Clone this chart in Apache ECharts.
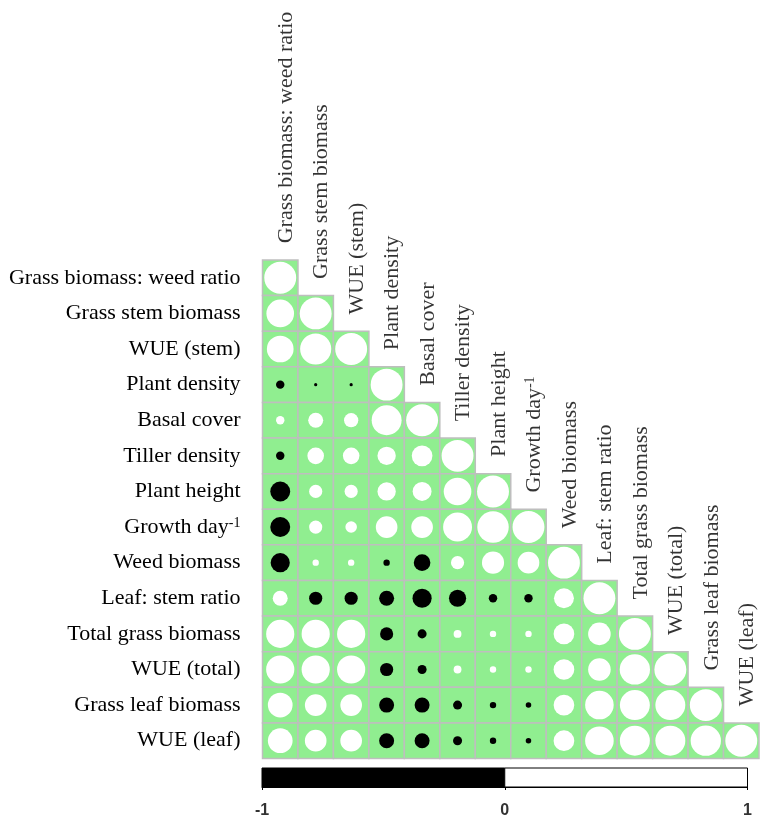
<!DOCTYPE html>
<html>
<head>
<meta charset="utf-8">
<script src="https://cdn.jsdelivr.net/npm/echarts@6/dist/echarts.min.js"></script>
<style>
html, body { margin: 0; padding: 0; background: #fff; }
#picture { width: 765px; height: 820px; }
</style>
</head>
<body>
<div id="picture"></div>
<script>
var variables = ['Grass biomass: weed ratio', 'Grass stem biomass', 'WUE (stem)', 'Plant density',
    'Basal cover', 'Tiller density', 'Plant height', 'Growth day-1', 'Weed biomass',
    'Leaf: stem ratio', 'Total grass biomass', 'WUE (total)', 'Grass leaf biomass', 'WUE (leaf)'];

// lower triangle of the correlation matrix, row i holds i+1 values
var corrLower = [
    [1],
    [0.75, 1],
    [0.70, 0.95, 1],
    [-0.07, -0.01, -0.01, 1],
    [0.07, 0.22, 0.20, 0.88, 1],
    [-0.07, 0.27, 0.27, 0.33, 0.42, 1],
    [-0.39, 0.17, 0.17, 0.33, 0.35, 0.75, 1],
    [-0.39, 0.17, 0.13, 0.46, 0.46, 0.82, 0.97, 1],
    [-0.36, 0.04, 0.04, -0.04, -0.27, 0.17, 0.48, 0.46, 1],
    [0.22, -0.17, -0.17, -0.22, -0.36, -0.29, -0.07, -0.07, 0.39, 1],
    [0.78, 0.78, 0.78, -0.17, -0.08, 0.06, 0.04, 0.04, 0.42, 0.50, 1],
    [0.78, 0.78, 0.78, -0.17, -0.08, 0.06, 0.04, 0.04, 0.42, 0.50, 0.90, 1],
    [0.60, 0.46, 0.46, -0.22, -0.22, -0.08, -0.04, -0.03, 0.42, 0.80, 0.88, 0.88, 1],
    [0.60, 0.46, 0.46, -0.22, -0.22, -0.08, -0.04, -0.03, 0.42, 0.80, 0.88, 0.88, 0.90, 1]
];

// colour legend: two segments, -1..0 and 0..1
var legendStops = [[-1, 0], [0, 1]];
var legendColors = ['#000000', '#ffffff'];

var serif = '"Liberation Serif", "Times New Roman", serif';
var gridLeft = 262.5, gridTop = 260, gridW = 496.5, gridH = 498.5;
var cell = gridW / variables.length;

var cells = [], circles = [], heads = [];
for (var i = 0; i < corrLower.length; i++) {
    for (var j = 0; j < corrLower[i].length; j++) {
        cells.push([j, i]);
        circles.push([j, i, corrLower[i][j]]);
    }
    heads.push([i, i, variables[i]]);
}

function labelText(v) {
    if (v === 'Growth day-1') return '{b|Growth day}{s|-1}';
    return '{b|' + v + '}';
}
var richStyle = {
    b: { fontSize: 22, fontFamily: serif, color: '#000' },
    s: { fontSize: 14, fontFamily: serif, color: '#000', verticalAlign: 'top', padding: [0, 0, 6, 0] }
};

var myChart = echarts.init(document.getElementById('picture'));
var option = {
    backgroundColor: '#ffffff',
    animation: false,
    grid: [
        { left: gridLeft, top: gridTop, width: gridW, height: gridH },
        { left: 262, top: 768, width: 485.5, height: 19 }
    ],
    xAxis: [
        { type: 'category', gridIndex: 0, data: variables, show: false },
        {
            type: 'value', gridIndex: 1, min: -1, max: 1, interval: 1,
            splitLine: { show: false },
            axisLine: { show: true, lineStyle: { color: '#000', width: 1 } },
            axisTick: { show: true, length: 3, lineStyle: { color: '#000' } },
            axisLabel: { margin: 16, fontSize: 16, fontWeight: 'bold', color: '#333',
                fontFamily: '"Liberation Sans", Arial, sans-serif' }
        }
    ],
    yAxis: [
        {
            type: 'category', gridIndex: 0, data: variables, inverse: true,
            axisLine: { show: false }, axisTick: { show: false }, splitLine: { show: false },
            axisLabel: { margin: 22, formatter: labelText, rich: richStyle }
        },
        { type: 'value', gridIndex: 1, min: 0, max: 1, show: false }
    ],
    series: [
        {
            type: 'custom',
            xAxisIndex: 0, yAxisIndex: 0,
            data: cells,
            renderItem: function (params, api) {
                var c = api.coord([api.value(0), api.value(1)]);
                var s = api.size([1, 1]);
                return {
                    type: 'rect',
                    shape: { x: c[0] - s[0] / 2, y: c[1] - s[1] / 2, width: s[0], height: s[1] },
                    style: { fill: '#90EE90', stroke: '#BEBEBE', lineWidth: 1.5 }
                };
            }
        },
        {
            type: 'scatter',
            xAxisIndex: 0, yAxisIndex: 0,
            data: circles,
            symbol: 'circle',
            symbolSize: function (val) {
                return 0.9 * Math.sqrt(Math.abs(val[2])) * cell;
            },
            itemStyle: {
                color: function (p) { return p.value[2] < 0 ? '#000000' : '#ffffff'; },
                opacity: 1
            }
        },
        {
            type: 'scatter',
            xAxisIndex: 0, yAxisIndex: 0,
            data: heads,
            symbolSize: 1,
            itemStyle: { color: 'rgba(0,0,0,0)' },
            label: {
                show: true,
                position: [6.5, -34],
                rotate: 90,
                align: 'left',
                verticalAlign: 'middle',
                formatter: function (p) { return labelText(p.value[2]); },
                rich: richStyle
            }
        },
        {
            type: 'custom',
            xAxisIndex: 1, yAxisIndex: 1,
            data: legendStops,
            encode: { x: [0, 1] },
            renderItem: function (params, api) {
                var p0 = api.coord([api.value(0), 0]);
                var p1 = api.coord([api.value(1), 1]);
                return {
                    type: 'rect',
                    shape: { x: p0[0], y: p1[1], width: p1[0] - p0[0], height: p0[1] - p1[1] },
                    style: { fill: legendColors[params.dataIndex], stroke: '#000', lineWidth: 1 }
                };
            }
        }
    ]
};
myChart.setOption(option);
</script>
</body>
</html>
